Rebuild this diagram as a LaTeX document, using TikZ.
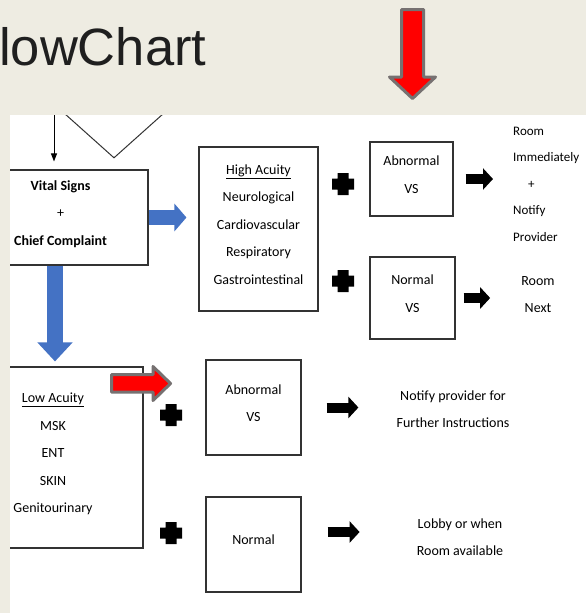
\documentclass[tikz,border=0pt]{standalone}
\usepackage{fontspec}
\setmainfont{Carlito}
\newfontfamily\titlefont{Liberation Sans}
\usetikzlibrary{arrows.meta,shapes.geometric}

\definecolor{slidebg}{RGB}{238,236,226}
\definecolor{accblue}{RGB}{68,114,196}
\definecolor{outgray}{RGB}{118,113,113}
\newcommand{\lowstrut}{\rule[-9pt]{0pt}{9pt}}

\begin{document}
\begin{tikzpicture}[x=1pt, y=-1pt,
        box/.style={draw=black!80, line width=1.1pt, fill=white, inner sep=0pt,
            align=center, font=\fontsize{14}{27.5}\selectfont},
        txt/.style={inner sep=0pt, align=center, font=\fontsize{14}{27.5}\selectfont},
        blk/.style={line width=10pt, -{Triangle[length=10pt, width=21pt]}},
        bluearr/.style={accblue, line width=15pt, -{Triangle[length=12pt, width=27pt]}},
        redarr/.style={fill=red, draw=outgray, line width=3pt, line join=round}
    ]

    % slide and panel
    \useasboundingbox (0,0) rectangle (586,613);
    \fill[slidebg] (0,0) rectangle (586,613);
    \fill[white] (10,115) rectangle (586,613);

    % boxes
    \node[draw=black!80, line width=1pt, diamond, inner sep=0pt,
        minimum width=219pt, minimum height=196pt] (dec) at (114,60) {};

    \node[box, minimum width=175pt, minimum height=95pt] (vital) at (60.5,217.5)
        {\textbf{Vital Signs}\\+\\\textbf{Chief Complaint}\lowstrut};
    \node[box, minimum width=119pt, minimum height=164pt] (high) at (258.5,229)
        {\underline{High Acuity}\\Neurological\\Cardiovascular\\Respiratory\\Gastrointestinal\lowstrut};

    \node[box, minimum width=83pt, minimum height=74pt] (abn1)  at (411.5,179) {Abnormal\\VS\lowstrut};
    \node[box, minimum width=85pt, minimum height=82pt] (norm1) at (412.5,298) {Normal\\VS\lowstrut};

    \node[box, minimum width=180pt, minimum height=181pt] (low) at (53,457.5)
        {\underline{Low Acuity}\\MSK\\ENT\\SKIN\\Genitourinary\lowstrut};

    \node[box, minimum width=95pt, minimum height=95pt] (abn2)  at (253.5,407.5) {Abnormal\\VS\lowstrut};
    \node[box, minimum width=95pt, minimum height=95pt] (norm2) at (253.5,544.5) {Normal\lowstrut};

    % outcomes
    \node[txt, anchor=west, align=left, font=\fontsize{13}{26.5}\selectfont] (now) at (513,184)
        {Room\\Immediately\\\hspace*{15pt}+\\Notify\\Provider};
    \node[txt] (next)  at (538,294.5) {Room\\Next};
    \node[txt] (instr) at (453,409)   {Notify provider for\\Further Instructions};
    \node[txt] (lobby) at (460,537)   {Lobby or when\\Room available};

    % connectors
    \coordinate (src) at (54,100);
    \draw[line width=1pt, -{Triangle[length=8pt, width=6pt]}, shorten >=8pt] (src) -- (src |- vital.north);

    \draw[bluearr, shorten >=12pt] (vital.east) -- (vital.east -| high.west);
    \coordinate (vs) at ([xshift=-5.5pt]vital.south);
    \draw[bluearr, line width=16pt, -{Triangle[length=19pt, width=34pt]}, shorten >=5pt]
        (vs) -- (vs |- low.north);

    \draw[blk, shorten <=12pt, shorten >=20pt] (abn1.east) -- (abn1.east -| now.west);
    \draw[blk, shorten <=8pt, shorten >=31pt] (norm1.east) -- (norm1.east -| next.west);
    \draw[blk, shorten <=25pt, shorten >=38pt] (abn2.east) -- (abn2.east -| instr.west);
    \coordinate (n2a) at ([yshift=12.5pt]norm2.east);
    \draw[blk, shorten <=26pt, shorten >=57pt] (n2a) -- (n2a -| lobby.west);

    % plus signs
    \foreach \px/\py in {343/184, 343/281, 171/415, 171/533}
        \fill (\px,\py) +(-11,-5.5) rectangle +(11,5.5)
              (\px,\py) +(-5.5,-11) rectangle +(5.5,11);

    % red marker
    \draw[redarr] (111.5,374.5) -- (153,374.5) -- (153,366.5) -- (170.5,383.5)
        -- (153,400.5) -- (153,392) -- (111.5,392) -- cycle;

    % slide frame over the cut picture
    \fill[slidebg] (-60,0) rectangle (586,115);
    \fill[slidebg] (-60,115) rectangle (10,613);

    \node[anchor=base west, inner sep=0pt, text=black!88,
        font=\titlefont\fontsize{52.5}{60}\selectfont] (title) at (-1,65) {lowChart};
    \draw[redarr] (401.5,9.5) -- (423.5,9.5) -- (423.5,77) -- (435.5,77) -- (412.5,98.5)
        -- (389.5,77) -- (401.5,77) -- cycle;
\end{tikzpicture}
\end{document}
